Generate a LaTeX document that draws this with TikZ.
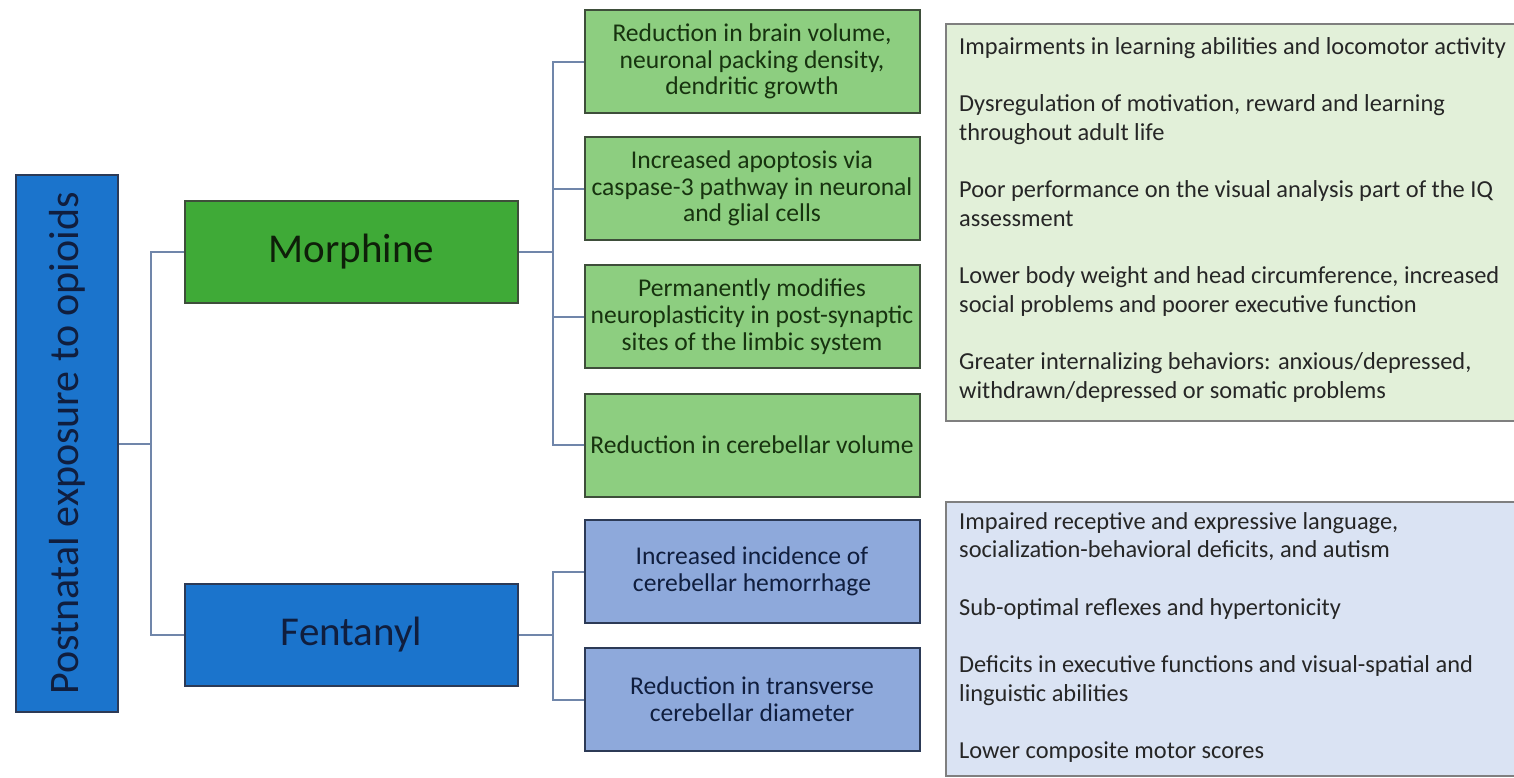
\documentclass[tikz,border=0pt]{standalone}
\usepackage{fontspec}
\usepackage{graphicx}
\setmainfont{Carlito}
\usetikzlibrary{calc}

\definecolor{rootblue}{HTML}{1B74CC}
\definecolor{drugblue}{HTML}{1B74CC}
\definecolor{druggreen}{HTML}{3FAA37}
\definecolor{effgreen}{HTML}{8DCE80}
\definecolor{effblue}{HTML}{8EA9DB}
\definecolor{panelgreen}{HTML}{E2F0D9}
\definecolor{panelblue}{HTML}{DAE3F3}
\definecolor{edgegreen}{HTML}{3E4E3A}
\definecolor{edgeblue}{HTML}{2C3A56}
\definecolor{paneledge}{HTML}{7F7F7F}
\definecolor{linkcol}{HTML}{7086AA}
\definecolor{txtgreen}{HTML}{17330F}
\definecolor{txtnavy}{HTML}{101E3E}
\definecolor{txtpanel}{HTML}{262626}

\tikzset{
  cellbox/.style={rectangle, line width=2pt, inner sep=0pt, align=center},
  rootbox/.style={cellbox, draw=edgeblue, fill=rootblue, text=txtnavy,
    minimum width=102, minimum height=537},
  morphbox/.style={cellbox, draw=edgegreen, fill=druggreen, text=txtgreen!60!black,
    minimum width=333, minimum height=102, font=\fontsize{41}{49}\selectfont},
  fentbox/.style={cellbox, draw=edgeblue, fill=drugblue, text=txtnavy,
    minimum width=333, minimum height=102, font=\fontsize{41}{49}\selectfont},
  gbox/.style={cellbox, draw=edgegreen, fill=effgreen, text=txtgreen,
    minimum width=335, minimum height=103, font=\fontsize{25.6}{26.7}\selectfont},
  bluebox/.style={cellbox, draw=edgeblue, fill=effblue, text=txtnavy,
    minimum width=335, minimum height=103, font=\fontsize{25.6}{26.7}\selectfont},
  panel/.style={rectangle, inner sep=0pt, anchor=north west},
  panelrim/.style={draw=paneledge, line width=2pt},
  paneltext/.style={anchor=base west, inner sep=0pt, text=txtpanel},
  link/.style={draw=linkcol, line width=2pt}
}

\newcommand{\paneltextbox}[1]{\parbox[t]{580pt}{\fontsize{24.4}{28.7}\selectfont\raggedright #1}}

\begin{document}
\begin{tikzpicture}[x=1pt,y=-1pt]
  \useasboundingbox (0,0) rectangle (1514,777);
  \clip (0,0) rectangle (1514,777);
  \fill[white] (0,0) rectangle (1514,777);

  % root of the tree
  \node[rootbox] (root) at (67,443.5)
    {\rotatebox{90}{\fontsize{42}{50}\selectfont Postnatal exposure to opioids}};

  % the two drugs
  \node[morphbox] (morph) at (351.5,252) {Morphine};
  \node[fentbox]  (fent)  at (351.5,635) {Fentanyl};

  % morphine effects
  \node[gbox] (m1) at (752,61.5)  {Reduction in brain volume,\\neuronal packing density,\\dendritic growth};
  \node[gbox] (m2) at (752,188.5) {Increased apoptosis via\\caspase-3 pathway in neuronal\\and glial cells};
  \node[gbox] (m3) at (752,316.5) {Permanently modifies\\neuroplasticity in post-synaptic\\sites of the limbic system};
  \node[gbox] (m4) at (752,445)   {Reduction in cerebellar volume};

  % fentanyl effects
  \node[bluebox] (f1) at (752,571.5) {Increased incidence of\\cerebellar hemorrhage};
  \node[bluebox] (f2) at (752,699.5) {Reduction in transverse\\cerebellar diameter};

  % outcome panels, running off the right edge
  \node[panel, fill=panelgreen, minimum width=620, minimum height=397] (pm) at (946,24) {};
  \node[panel, fill=panelblue,  minimum width=620, minimum height=274] (pf) at (946,501.5) {};
  \draw[panelrim] (pm.north east) -- (pm.north west) -- (pm.south west) -- (pm.south east);
  \draw[panelrim] (pf.north east) -- (pf.north west) -- (pf.south west) -- (pf.south east);

  \node[paneltext] (pmtext) at (959,54) {\paneltextbox{%
    Impairments in learning abilities and locomotor activity\\[28.7pt]
    Dysregulation of motivation, reward and learning\\
    throughout adult life\\[28.7pt]
    Poor performance on the visual analysis part of the IQ\\
    assessment\\[28.7pt]
    Lower body weight and head circumference, increased\\
    social problems and poorer executive function\\[28.7pt]
    Greater internalizing behaviors: anxious/depressed,\\
    withdrawn/depressed or somatic problems}};

  \node[paneltext] (pftext) at (959,529) {\paneltextbox{%
    Impaired receptive and expressive language,\\
    socialization-behavioral deficits, and autism\\[28.7pt]
    Sub-optimal reflexes and hypertonicity\\[28.7pt]
    Deficits in executive functions and visual-spatial and\\
    linguistic abilities\\[28.7pt]
    Lower composite motor scores}};

  % connectors
  \coordinate (rj) at ($(root.east)+(32,0)$);
  \coordinate (mj) at ($(morph.east)+(34,0)$);
  \coordinate (fj) at ($(fent.east)+(34,0)$);

  \draw[link] (root.east) -- (rj);
  \draw[link] (rj) |- (morph.west);
  \draw[link] (rj) |- (fent.west);

  \draw[link] (morph.east) -- (mj);
  \draw[link] (mj) |- (m1.west);
  \draw[link] (mj) |- (m2.west);
  \draw[link] (mj) |- (m3.west);
  \draw[link] (mj) |- (m4.west);

  \draw[link] (fent.east) -- (fj);
  \draw[link] (fj) |- (f1.west);
  \draw[link] (fj) |- (f2.west);
\end{tikzpicture}
\end{document}
